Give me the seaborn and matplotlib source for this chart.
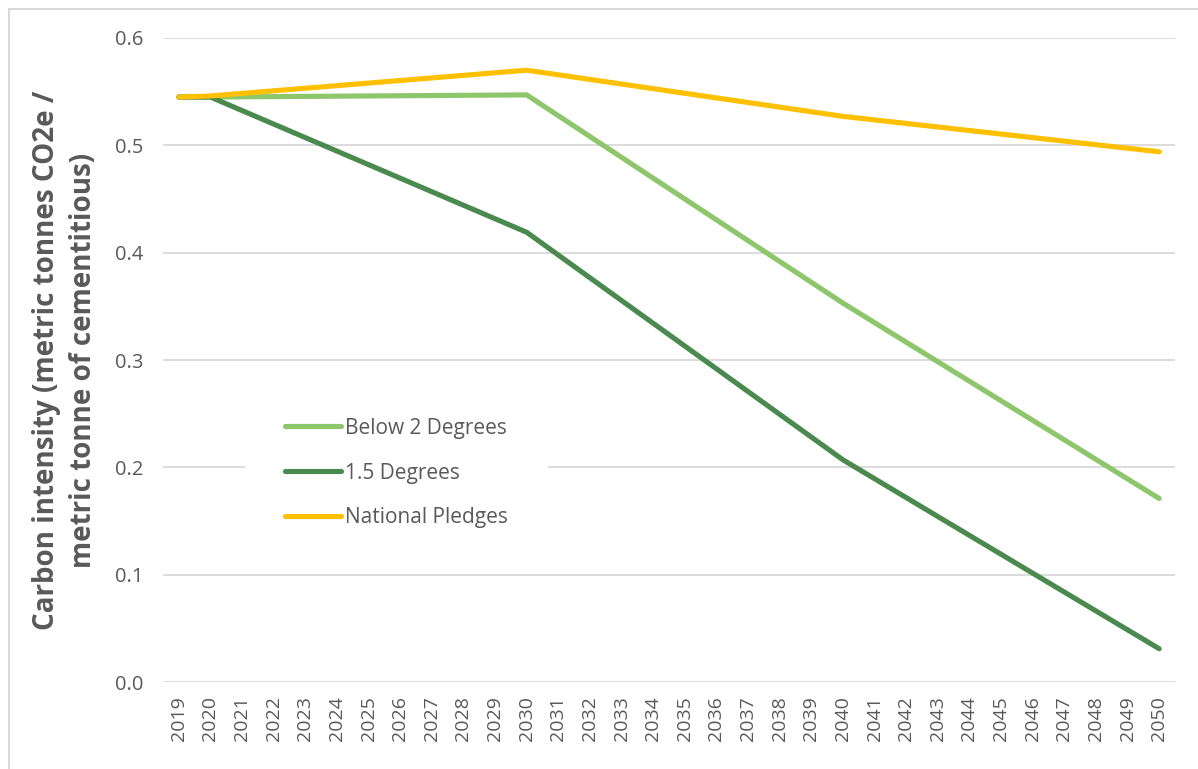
import pandas as pd
import matplotlib
matplotlib.use("Agg")
import matplotlib.pyplot as plt
from matplotlib.patches import Rectangle
import seaborn as sns

# Scenario values (anchor years only, Excel draws straight lines between them)
years = [2019, 2020, 2030, 2040, 2050]
below_2 = [0.545, 0.545, 0.547, 0.353, 0.171]
deg_1_5 = [0.545, 0.545, 0.419, 0.207, 0.031]
pledges = [0.545, 0.546, 0.570, 0.527, 0.494]
series_names = ["Below 2 Degrees", "1.5 Degrees", "National Pledges"]
all_years = list(range(2019, 2051))
y_ticks = [0.0, 0.1, 0.2, 0.3, 0.4, 0.5, 0.6]

colors = ["#8DC66B", "#4B8A4F", "#FFC000"]
grey_text = "#595959"

# long-form table for seaborn
df = pd.DataFrame({
    "year": years * 3,
    "value": below_2 + deg_1_5 + pledges,
    "scenario": [series_names[0]] * 5 + [series_names[1]] * 5 + [series_names[2]] * 5,
})

sns.set_style("white")
plt.rcParams["font.family"] = ["Open Sans", "DejaVu Sans"]

fig = plt.figure(figsize=(11.98, 7.69), dpi=100)
ax = fig.add_axes([163 / 1198, 1 - 682 / 769, (1175 - 163) / 1198, (682 - 38) / 769])

sns.lineplot(data=df, x="year", y="value", hue="scenario", hue_order=series_names,
             palette=colors, linewidth=3.7, ax=ax, legend=False,
             solid_capstyle="round", solid_joinstyle="round")

ax.set_xlim(2018.5, 2050.5)
ax.set_ylim(0, 0.6)
ax.set_xticks(all_years)
ax.set_xticklabels([str(y) for y in all_years], rotation=90, color=grey_text, fontsize=14)
ax.set_yticks(y_ticks)
ax.set_yticklabels([f"{v:.1f}" for v in y_ticks], color=grey_text, fontsize=14.5)
ax.tick_params(axis="x", length=0, pad=10)
ax.tick_params(axis="y", length=0, pad=14)
ax.yaxis.grid(True, color="#D9D9D9", linewidth=1.3)
ax.set_axisbelow(True)
for s in ax.spines.values():
    s.set_visible(False)

ax.set_xlabel("")
ax.set_ylabel("Carbon intensity (metric tonnes CO2e /\nmetric tonne of cementitious)",
              fontsize=20, fontweight="bold", color=grey_text, labelpad=12, linespacing=1.4)

# legend sitting inside the plot with a white box and no frame
handles = [plt.Line2D([], [], color=c, linewidth=3.7, solid_capstyle="round") for c in colors]
leg = ax.legend(handles, series_names, loc="center left",
                bbox_to_anchor=(82 / 1012, (682 - 473) / 644),
                frameon=True, fontsize=15, handlelength=2.7, handletextpad=0.2,
                labelspacing=1.15, borderpad=1.9, borderaxespad=0)
leg.get_frame().set_edgecolor("white")
leg.get_frame().set_facecolor("white")
leg.get_frame().set_alpha(1)
for t in leg.get_texts():
    t.set_color(grey_text)

# light chart-area border like the Excel export
fig.patches.append(Rectangle((9 / 1198, -0.1), 1.2, 1.1 - 9 / 769, transform=fig.transFigure,
                             fill=False, edgecolor="#D9D9D9", linewidth=1.5))

fig.savefig("out.png", dpi=100)
